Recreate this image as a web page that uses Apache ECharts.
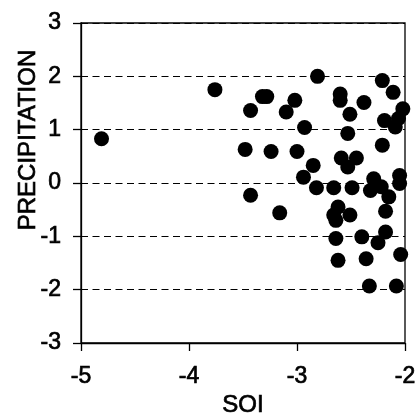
<!DOCTYPE html>
<html>
<head>
<meta charset="utf-8">
<title>PRECIPITATION vs SOI</title>
<script src="https://cdn.jsdelivr.net/npm/echarts@6/dist/echarts.min.js"></script>
<style>
  html, body { margin: 0; padding: 0; background: #fff; }
  #chart { width: 418px; height: 417px; }
</style>
</head>
<body>
<div id="chart"></div>
<script>
// Southern Oscillation Index (x) against standardized precipitation (y)
const soi = [
  -4.81, -3.76, -2.81, -2.21, -2.11, -3.32, -3.28, -2.60, -2.60, -3.02,
  -2.38, -3.43, -3.10, -2.51, -2.02, -2.19, -2.06, -2.09, -2.93, -2.53,
  -2.21, -3.48, -3.24, -3.00, -2.59, -2.45, -2.53, -2.85, -2.94, -2.29,
  -2.05, -2.05, -2.82, -2.66, -2.49, -2.32, -2.22, -2.15, -2.18, -3.43,
  -3.16, -2.62, -2.66, -2.51, -2.64, -2.64, -2.40, -2.18, -2.25, -2.62,
  -2.36, -2.04, -2.33, -2.08
];
const precipitation = [
  0.83, 1.75, 2.00, 1.92, 1.70, 1.62, 1.62, 1.67, 1.55, 1.55,
  1.51, 1.36, 1.33, 1.29, 1.39, 1.17, 1.21, 1.05, 1.04, 0.93,
  0.71, 0.63, 0.59, 0.59, 0.47, 0.47, 0.30, 0.33, 0.11, 0.08,
  0.14, -0.01, -0.09, -0.09, -0.09, -0.14, -0.07, -0.26, -0.53, -0.23,
  -0.56, -0.45, -0.60, -0.60, -0.70, -1.04, -1.01, -0.92, -1.12, -1.45,
  -1.42, -1.34, -1.93, -1.93
];
const xTicks = [-5, -4, -3, -2];
const yTicks = [-3, -2, -1, 0, 1, 2, 3];
const xTitle = 'SOI';
const yTitle = 'PRECIPITATION';

const points = soi.map((x, i) => [x, precipitation[i]]);
const font = '"Liberation Sans", Arial, Helvetica, sans-serif';
// regular weight, thickened slightly with a thin outline of the same colour
const textStyle = {
  fontFamily: font, fontSize: 23, fontWeight: 'normal', color: '#000',
  textBorderColor: '#000', textBorderWidth: 0.7
};

const chart = echarts.init(document.getElementById('chart'), null, { renderer: 'canvas' });
chart.setOption({
  animation: false,
  backgroundColor: '#ffffff',
  grid: {
    left: 81, right: 13, top: 23, bottom: 74,
    outerBoundsMode: 'none',
    show: true, borderColor: '#000', borderWidth: 1.3, backgroundColor: 'transparent'
  },
  // vertical axis title, placed beside the tick labels
  graphic: [{
    type: 'text',
    x: 28, y: 140,
    rotation: Math.PI / 2,
    style: {
      text: yTitle, align: 'center', verticalAlign: 'middle', fill: '#000',
      font: '24px ' + font, stroke: '#000', lineWidth: 0.7
    }
  }],
  xAxis: {
    type: 'value',
    min: xTicks[0], max: xTicks[xTicks.length - 1], interval: 1,
    name: xTitle, nameLocation: 'middle', nameGap: 49,
    nameTextStyle: Object.assign({}, textStyle, { fontSize: 24 }),
    axisLine: { show: true, onZero: false, lineStyle: { color: '#000', width: 1.3 } },
    axisTick: { show: true, inside: false, length: 8, lineStyle: { color: '#000', width: 1.3 } },
    axisLabel: Object.assign({ margin: 22 }, textStyle),
    splitLine: { show: false }
  },
  yAxis: {
    type: 'value',
    min: yTicks[0], max: yTicks[yTicks.length - 1], interval: 1,
    axisLine: { show: true, onZero: false, lineStyle: { color: '#000', width: 1.3 } },
    axisTick: { show: true, inside: false, length: 8, lineStyle: { color: '#000', width: 1.3 } },
    axisLabel: Object.assign({ margin: 20 }, textStyle),
    splitLine: {
      show: true,
      lineStyle: { color: '#000', width: 1.2, type: [7, 4.5] }
    }
  },
  series: [{
    type: 'scatter',
    data: points,
    symbol: 'circle',
    symbolSize: 15,
    clip: false,
    itemStyle: { color: '#000', opacity: 1 }
  }]
});
</script>
</body>
</html>
